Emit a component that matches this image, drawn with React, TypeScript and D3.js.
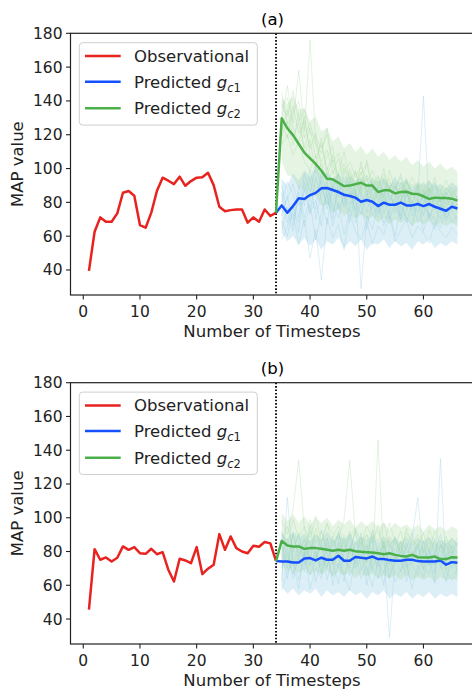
import React from "react";
import * as d3 from "d3";

// Timesteps
const OBS_X = d3.range(1, 35); // 1..34
const PRED_X = d3.range(34, 67); // 34..66 (joined to last observation)
const SAMPLE_X = d3.range(35, 67); // 35..66

const X_TICKS = [0, 10, 20, 30, 40, 50, 60];
const Y_TICKS = [40, 60, 80, 100, 120, 140, 160, 180];
const SPLIT_X = 34;

// ---- Panel (a) ----
const obsA = [39.5, 62.6, 71.1, 68.5, 68.5, 73.5, 85.7, 86.7, 83.9, 66.6, 65.0, 73.9, 86.9, 94.6, 92.8, 90.8, 95.2, 89.8, 92.6, 94.6, 94.8, 97.5, 90.2, 77.4, 74.8, 75.4, 75.8, 75.8, 68.0, 71.1, 68.5, 75.8, 71.9, 73.9];
const predGc1A = [73.9, 78.2, 73.9, 77.8, 82.4, 82.0, 84.3, 85.6, 88.3, 88.5, 87.3, 86.1, 84.5, 83.8, 82.8, 80.4, 81.4, 80.4, 77.8, 79.8, 78.6, 78.6, 79.8, 78.2, 78.2, 79.0, 77.8, 79.0, 77.4, 76.2, 75.0, 77.4, 76.4];
const predGc2A = [73.9, 129.7, 123.8, 119.8, 114.5, 109.4, 106.0, 102.7, 98.7, 94.0, 93.6, 91.6, 89.6, 89.9, 90.8, 91.6, 89.9, 89.9, 86.1, 87.1, 87.1, 85.3, 86.1, 86.3, 85.1, 84.9, 83.6, 82.0, 82.8, 82.6, 82.6, 82.2, 81.0];

const bandGc1A_hi = [94, 90, 97, 93, 99, 95, 101, 96, 98, 94, 97, 92, 96, 93, 95, 91, 94, 92, 95, 90, 93, 91, 94, 89, 92, 90, 93, 89, 91, 88, 92, 89];
const bandGc1A_lo = [62, 57, 60, 55, 59, 54, 58, 52, 57, 55, 59, 53, 57, 54, 58, 52, 56, 55, 58, 53, 57, 54, 56, 52, 57, 55, 58, 53, 56, 54, 57, 55];
const bandGc2A_hi = [142, 138, 143, 135, 136, 128, 131, 122, 124, 116, 119, 112, 115, 110, 113, 108, 112, 107, 110, 105, 108, 104, 107, 102, 105, 101, 104, 100, 103, 99, 101, 98];
const bandGc2A_lo = [104, 96, 95, 88, 88, 82, 84, 78, 79, 74, 76, 72, 74, 70, 73, 69, 72, 68, 71, 67, 70, 68, 70, 66, 69, 67, 69, 66, 68, 66, 68, 66];

const samplesGc1A = [
  [72, 84, 66, 90, 78, 95, 70, 86, 92, 74, 88, 79, 93, 71, 85, 80, 76, 89, 73, 84, 78, 70, 86, 75, 81, 72, 88, 77, 70, 83, 75, 79],
  [86, 68, 79, 62, 88, 73, 95, 81, 67, 90, 76, 84, 68, 86, 79, 64, 82, 74, 88, 70, 79, 85, 68, 80, 74, 87, 71, 78, 82, 69, 80, 74],
  [64, 77, 70, 83, 66, 79, 58, 74, 85, 66, 80, 61, 76, 88, 29, 72, 64, 80, 68, 75, 60, 78, 71, 66, 82, 63, 74, 70, 65, 77, 68, 72],
  [80, 92, 85, 71, 97, 86, 102, 90, 79, 94, 83, 98, 87, 75, 91, 96, 84, 78, 93, 81, 88, 95, 76, 86, 90, 79, 87, 92, 80, 85, 89, 82],
  [58, 66, 74, 55, 70, 47, 64, 34, 71, 59, 67, 52, 73, 63, 58, 69, 55, 66, 61, 72, 57, 64, 70, 59, 66, 62, 56, 68, 63, 59, 65, 61],
  [75, 82, 91, 78, 86, 99, 84, 93, 76, 89, 97, 83, 79, 92, 85, 74, 90, 81, 77, 88, 95, 72, 86, 79, 83, 143, 77, 91, 74, 86, 80, 77],
  [69, 60, 77, 68, 92, 74, 81, 66, 88, 78, 71, 85, 74, 68, 80, 87, 72, 79, 66, 76, 83, 70, 75, 81, 68, 77, 73, 64, 79, 71, 75, 69],
  [90, 74, 63, 86, 71, 82, 76, 98, 84, 70, 92, 77, 86, 80, 73, 85, 79, 71, 84, 90, 74, 81, 88, 72, 78, 85, 70, 82, 76, 73, 78, 84],
];
const samplesGc2A = [
  [138, 131, 146, 128, 135, 121, 118, 112, 120, 104, 109, 98, 104, 95, 101, 92, 99, 90, 97, 88, 94, 91, 86, 95, 88, 92, 84, 90, 86, 93, 85, 88],
  [122, 135, 119, 127, 112, 124, 106, 115, 99, 108, 95, 103, 88, 98, 85, 96, 91, 83, 94, 86, 90, 81, 93, 84, 88, 80, 89, 83, 86, 79, 87, 82],
  [145, 126, 133, 140, 118, 127, 114, 104, 111, 97, 106, 92, 100, 89, 97, 103, 87, 95, 84, 92, 88, 97, 83, 91, 86, 82, 93, 85, 80, 89, 84, 78],
  [114, 120, 108, 116, 104, 99, 108, 94, 101, 88, 96, 85, 92, 81, 89, 94, 80, 87, 83, 78, 90, 84, 79, 86, 81, 88, 77, 83, 80, 76, 85, 79],
  [131, 149, 127, 158, 122, 176, 115, 109, 124, 101, 97, 110, 93, 99, 87, 105, 90, 96, 82, 99, 88, 85, 94, 80, 91, 87, 83, 95, 81, 88, 84, 90],
  [127, 118, 137, 121, 128, 112, 121, 99, 107, 113, 91, 100, 95, 86, 104, 83, 95, 88, 100, 84, 80, 92, 87, 78, 90, 84, 88, 76, 85, 82, 79, 84],
  [136, 142, 124, 115, 131, 108, 101, 118, 96, 105, 90, 87, 98, 84, 94, 88, 82, 93, 79, 89, 85, 80, 92, 86, 78, 84, 89, 81, 77, 86, 80, 75],
  [119, 128, 114, 133, 109, 117, 97, 103, 92, 99, 86, 95, 83, 91, 98, 86, 92, 81, 88, 94, 83, 89, 80, 86, 83, 91, 79, 85, 88, 78, 83, 87],
];

// ---- Panel (b) ----
const obsB = [45.5, 81.4, 75.1, 76.5, 74.1, 76.3, 83.0, 81.0, 82.6, 79.0, 78.6, 81.6, 78.4, 79.6, 69.2, 62.2, 75.7, 74.7, 73.1, 82.6, 66.6, 69.8, 72.2, 90.3, 81.0, 88.9, 82.0, 80.0, 79.0, 83.4, 82.8, 85.6, 84.8, 74.3];
const predGc1B = [74.3, 74.1, 74.1, 73.5, 73.5, 75.9, 76.1, 74.7, 76.3, 75.1, 75.1, 77.5, 74.5, 74.5, 76.7, 76.3, 75.9, 77.0, 75.5, 75.5, 74.9, 74.5, 74.5, 75.1, 75.1, 74.3, 74.1, 74.1, 74.1, 74.7, 72.2, 73.7, 73.3];
const predGc2B = [74.3, 86.3, 83.6, 83.0, 83.0, 81.6, 82.0, 82.0, 81.6, 81.0, 80.4, 81.0, 80.4, 81.0, 80.2, 79.8, 79.6, 79.4, 79.0, 78.4, 79.0, 78.0, 77.4, 77.0, 78.0, 76.6, 76.4, 76.4, 77.0, 75.5, 75.5, 76.6, 76.4];

const bandGc1B_hi = [91, 87, 92, 88, 91, 86, 90, 87, 92, 86, 90, 87, 91, 85, 89, 87, 90, 85, 89, 86, 88, 85, 89, 84, 88, 86, 89, 84, 87, 85, 88, 85];
const bandGc1B_lo = [59, 55, 58, 54, 57, 55, 58, 53, 57, 54, 56, 53, 57, 54, 56, 52, 56, 54, 57, 52, 55, 53, 56, 52, 55, 53, 56, 52, 55, 53, 55, 53];
const bandGc2B_hi = [103, 98, 102, 97, 101, 96, 100, 97, 100, 95, 99, 96, 99, 94, 98, 95, 98, 94, 97, 93, 97, 94, 96, 93, 96, 92, 96, 93, 95, 92, 95, 93];
const bandGc2B_lo = [73, 68, 71, 67, 70, 66, 69, 66, 69, 65, 68, 66, 68, 64, 67, 65, 67, 64, 66, 64, 66, 63, 66, 63, 65, 63, 65, 62, 65, 63, 64, 63];

const samplesGc1B = [
  [70, 82, 64, 77, 88, 72, 80, 67, 85, 74, 61, 79, 90, 70, 76, 84, 68, 81, 73, 64, 78, 86, 71, 75, 83, 69, 80, 72, 77, 85, 70, 76],
  [62, 112, 72, 58, 80, 66, 75, 85, 63, 77, 70, 88, 66, 74, 81, 60, 79, 71, 86, 65, 74, 80, 62, 76, 84, 70, 67, 79, 73, 62, 78, 71],
  [84, 70, 91, 76, 68, 87, 74, 93, 78, 65, 86, 73, 80, 92, 69, 77, 88, 64, 80, 29, 75, 83, 70, 88, 112, 76, 81, 67, 84, 73, 79, 86],
  [57, 68, 75, 63, 79, 58, 70, 64, 82, 60, 73, 66, 57, 78, 64, 71, 59, 75, 67, 80, 62, 69, 74, 58, 72, 65, 77, 61, 135, 68, 63, 70],
  [78, 64, 81, 90, 72, 83, 62, 77, 70, 89, 76, 62, 84, 73, 91, 66, 80, 74, 60, 84, 77, 68, 85, 72, 66, 81, 74, 88, 70, 77, 83, 66],
  [91, 76, 67, 84, 74, 95, 80, 71, 88, 79, 92, 75, 70, 86, 81, 74, 93, 78, 84, 72, 89, 77, 82, 91, 75, 86, 72, 80, 90, 76, 84, 79],
];
const samplesGc2B = [
  [92, 84, 99, 88, 95, 81, 90, 86, 97, 83, 91, 79, 88, 94, 82, 90, 85, 96, 80, 89, 84, 92, 78, 87, 83, 91, 80, 86, 82, 89, 79, 85],
  [78, 88, 74, 85, 80, 92, 76, 83, 71, 87, 79, 90, 75, 84, 88, 73, 82, 77, 86, 72, 81, 85, 74, 80, 77, 83, 72, 79, 84, 74, 81, 76],
  [98, 90, 105, 134, 93, 88, 101, 85, 96, 91, 87, 99, 134, 90, 84, 95, 88, 92, 82, 97, 86, 80, 91, 85, 88, 79, 93, 84, 80, 87, 82, 88],
  [70, 79, 67, 76, 84, 71, 80, 68, 77, 73, 82, 66, 75, 71, 79, 84, 70, 146, 76, 69, 78, 73, 67, 80, 75, 70, 78, 72, 76, 69, 74, 71],
  [86, 95, 80, 91, 77, 99, 85, 92, 81, 89, 95, 84, 78, 93, 87, 80, 91, 86, 97, 83, 88, 79, 94, 84, 90, 86, 81, 92, 85, 78, 88, 83],
  [82, 73, 90, 79, 87, 76, 94, 80, 88, 72, 85, 81, 92, 77, 86, 90, 75, 83, 79, 88, 74, 86, 81, 77, 85, 73, 88, 80, 74, 84, 78, 82],
];

const SERIES_LABELS = ["Observational", "Predicted", "Predicted"];

const COLORS = {
  obs: "#e8231f",
  gc1: "#1450ff",
  gc2: "#4cb04a",
  gc1Light: "#8fcbe0",
  gc2Light: "#a3d69a",
};

const FONT = "'DejaVu Sans', sans-serif";
const W = 472;
const H = 690;

const x = d3.scaleLinear().domain([-2.25, 69.25]).range([70.5, 475.9]);

type PanelProps = {
  top: number;
  bottom: number;
  title: string;
  clipBottom: number;
  obs: number[];
  gc1: number[];
  gc2: number[];
  band1: [number[], number[]];
  band2: [number[], number[]];
  samples1: number[][];
  samples2: number[][];
  id: string;
};

function Panel(p: PanelProps) {
  const y = d3.scaleLinear().domain([25.2, 180]).range([p.bottom, p.top]);
  const line = d3
    .line<[number, number]>()
    .x((d) => x(d[0]))
    .y((d) => y(d[1]));
  const bandPath = (band: [number[], number[]]) =>
    d3
      .area<number>()
      .x((_, i) => x(SAMPLE_X[i]))
      .y0((_, i) => y(band[0][i]))
      .y1((_, i) => y(band[1][i]))(SAMPLE_X) || "";
  const pair = (xs: number[], ys: number[]) => xs.map((v, i) => [v, ys[i]] as [number, number]);

  const left = x.range()[0];
  const right = x.range()[1];
  const midY = (p.top + p.bottom) / 2;
  const legX = 79.3;
  const legY = p.top + 9.4;
  const rows = [legY + 13.3, legY + 39, legY + 65.6];

  return (
    <g>
      <defs>
        <clipPath id={`plot-${p.id}`}>
          <rect x={left} y={p.top} width={right - left} height={p.bottom - p.top} />
        </clipPath>
        <clipPath id={`fig-${p.id}`}>
          <rect x={0} y={0} width={W} height={p.clipBottom} />
        </clipPath>
      </defs>
      <g clipPath={`url(#fig-${p.id})`}>
        {/* title */}
        <text x={272.5} y={p.top - 8.7} textAnchor="middle" fontSize={16.5} fill="#000">
          {p.title}
        </text>

        <g clipPath={`url(#plot-${p.id})`}>
          {/* sample spread */}
          <path d={bandPath(p.band1)} fill={COLORS.gc1Light} fillOpacity={0.3} />
          <path d={bandPath(p.band2)} fill={COLORS.gc2Light} fillOpacity={0.28} />
          {p.samples1.map((s, i) => (
            <path key={`s1-${i}`} d={line(pair(SAMPLE_X, s)) || ""} fill="none" stroke={COLORS.gc1Light} strokeOpacity={0.38} strokeWidth={0.8} />
          ))}
          {p.samples2.map((s, i) => (
            <path key={`s2-${i}`} d={line(pair(SAMPLE_X, s)) || ""} fill="none" stroke={COLORS.gc2Light} strokeOpacity={0.38} strokeWidth={0.8} />
          ))}
          {/* split marker */}
          <line x1={x(SPLIT_X)} x2={x(SPLIT_X)} y1={p.top} y2={p.bottom} stroke="#000" strokeWidth={1.8} strokeDasharray="1.6 1.8" />
          {/* main series */}
          <path d={line(pair(OBS_X, p.obs)) || ""} fill="none" stroke={COLORS.obs} strokeWidth={2.5} strokeLinejoin="round" />
          <path d={line(pair(PRED_X, p.gc1)) || ""} fill="none" stroke={COLORS.gc1} strokeWidth={2.5} strokeLinejoin="round" />
          <path d={line(pair(PRED_X, p.gc2)) || ""} fill="none" stroke={COLORS.gc2} strokeWidth={2.5} strokeLinejoin="round" />
        </g>

        {/* spines */}
        <rect x={left} y={p.top} width={right - left} height={p.bottom - p.top} fill="none" stroke="#222" strokeWidth={1.2} />

        {/* x axis */}
        {X_TICKS.map((t) => (
          <g key={`xt-${t}`}>
            <line x1={x(t)} x2={x(t)} y1={p.bottom} y2={p.bottom + 4.5} stroke="#222" strokeWidth={1.1} />
            <text x={x(t)} y={p.bottom + 22} textAnchor="middle" fontSize={15.5} fill="#222">
              {t}
            </text>
          </g>
        ))}
        <text x={272} y={p.bottom + 42} textAnchor="middle" fontSize={16.5} fill="#222">
          Number of Timesteps
        </text>

        {/* y axis */}
        {Y_TICKS.map((t) => (
          <g key={`yt-${t}`}>
            <line x1={left - 4.5} x2={left} y1={y(t)} y2={y(t)} stroke="#222" strokeWidth={1.1} />
            <text x={left - 8} y={y(t) + 5.5} textAnchor="end" fontSize={15.5} fill="#222">
              {t}
            </text>
          </g>
        ))}
        <text transform={`translate(${22.5},${midY}) rotate(-90)`} textAnchor="middle" fontSize={16.5} fill="#222">
          MAP value
        </text>

        {/* legend */}
        <rect x={legX} y={legY} width={178} height={82.4} rx={3.5} fill="#fff" fillOpacity={0.8} stroke="#cfcfcf" strokeWidth={1} />
        {[COLORS.obs, COLORS.gc1, COLORS.gc2].map((c, i) => (
          <line key={`lg-${i}`} x1={85} x2={120.7} y1={rows[i]} y2={rows[i]} stroke={c} strokeWidth={2.5} />
        ))}
        <text x={134} y={rows[0] + 6} fontSize={16.5} fill="#222">
          {SERIES_LABELS[0]}
        </text>
        {[1, 2].map((i) => (
          <text key={`lt-${i}`} x={134} y={rows[i] + 6} fontSize={16.5} fill="#222">
            {SERIES_LABELS[i]}{" "}
            <tspan fontStyle="italic">g</tspan>
            <tspan dy={4} fontSize={11.5} fontStyle="italic">c</tspan>
            <tspan fontSize={11.5}>{i}</tspan>
          </text>
        ))}
      </g>
    </g>
  );
}

export default function App() {
  return (
    <svg
      width={W}
      height={H}
      style={{ position: "absolute", left: 0, top: 0, background: "#fff", fontFamily: FONT }}
    >
      <rect width={W} height={H} fill="#fff" />
      <Panel
        id="a"
        top={33.3}
        bottom={295}
        title="(a)"
        clipBottom={338}
        obs={obsA}
        gc1={predGc1A}
        gc2={predGc2A}
        band1={[bandGc1A_lo, bandGc1A_hi]}
        band2={[bandGc2A_lo, bandGc2A_hi]}
        samples1={samplesGc1A}
        samples2={samplesGc2A}
      />
      <Panel
        id="b"
        top={382.7}
        bottom={644}
        title="(b)"
        clipBottom={H}
        obs={obsB}
        gc1={predGc1B}
        gc2={predGc2B}
        band1={[bandGc1B_lo, bandGc1B_hi]}
        band2={[bandGc2B_lo, bandGc2B_hi]}
        samples1={samplesGc1B}
        samples2={samplesGc2B}
      />
    </svg>
  );
}
